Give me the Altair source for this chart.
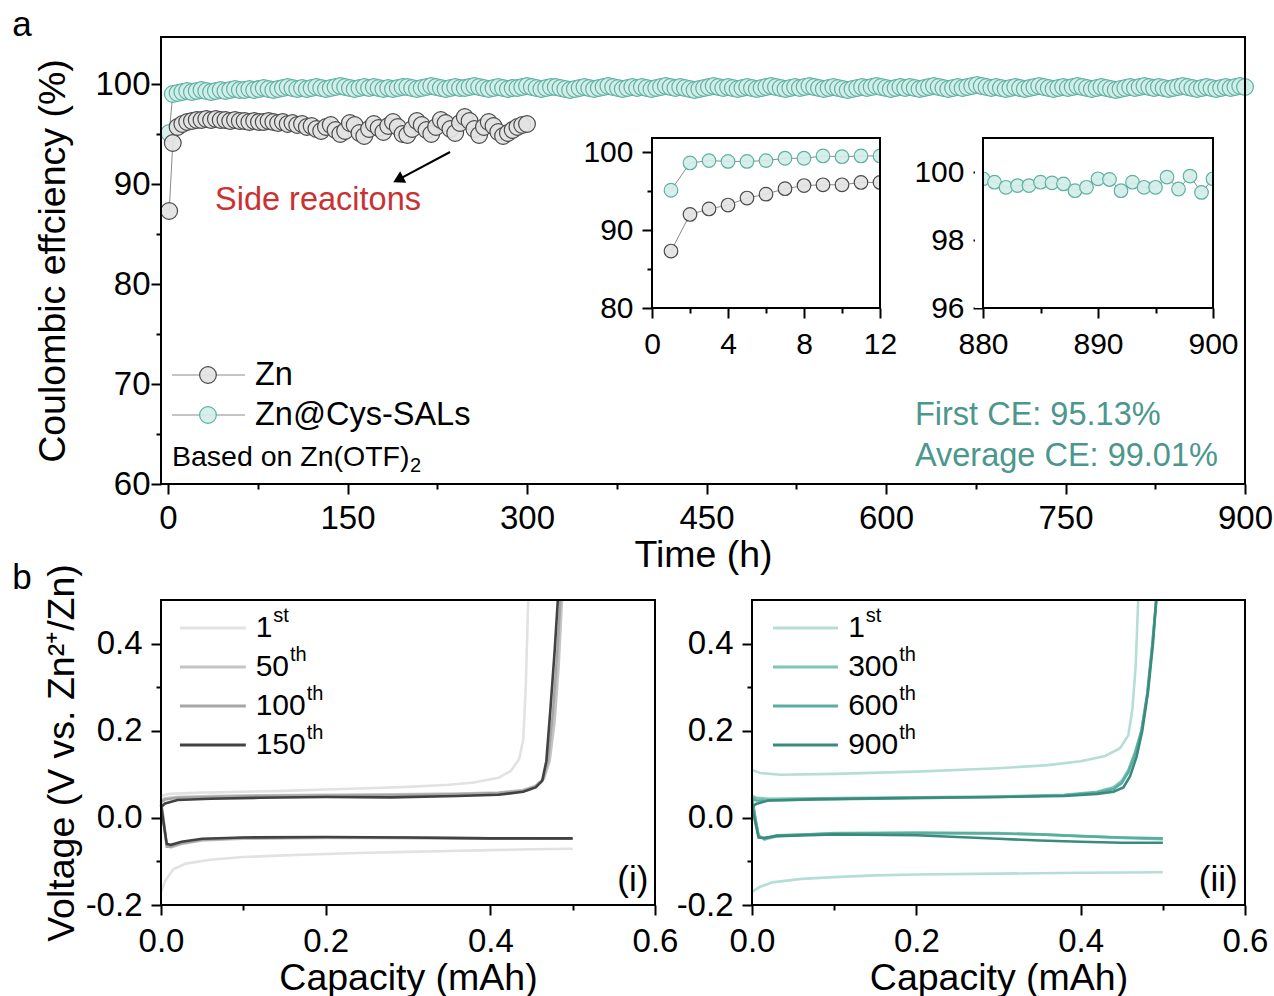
import altair as alt
import pandas as pd

FONT = "Liberation Sans"

# ------------------------------------------------------------------ data
# panel a, main curves (one plotted point every 4 h)
zn_time = [1, 4] + list(range(8, 301, 4))
zn_ce = [87.3, 94.1,
         95.7, 96.0, 96.2, 96.3, 96.4, 96.4, 96.5, 96.4, 96.5, 96.4,
         96.4, 96.3, 96.4, 96.3, 96.3, 96.2, 96.3, 96.2, 96.2, 96.3,
         96.2, 96.1, 96.2, 96.0, 96.1, 95.9, 96.0, 95.7, 95.8, 95.5,
         95.3, 95.7, 95.9, 95.4, 95.0, 95.3, 96.1, 95.9, 95.1, 94.8,
         95.5, 96.0, 95.6, 95.2, 95.8, 96.2, 95.7, 95.0, 94.9, 95.5,
         96.3, 95.9, 95.4, 95.0, 95.7, 96.4, 96.1, 95.5, 95.1, 96.1,
         96.7, 96.3, 95.5, 94.9, 95.7, 96.2, 95.8, 95.2, 94.8, 95.1,
         95.4, 95.7, 95.9, 96.0]

cys_time = [1, 4] + list(range(8, 901, 4))
cys_ce = [95.1, 99.0,
          99.1, 99.2, 99.3, 99.2, 99.3, 99.4, 99.3, 99.2, 99.3, 99.4, 99.3, 99.4, 99.5, 99.4, 99.4, 99.5,
          99.4, 99.5, 99.6, 99.5, 99.4, 99.5, 99.6, 99.7, 99.6, 99.5, 99.6, 99.5, 99.6, 99.7, 99.6, 99.5,
          99.6, 99.7, 99.8, 99.7, 99.6, 99.5, 99.6, 99.7, 99.6, 99.7, 99.6, 99.5, 99.6, 99.5, 99.6, 99.7,
          99.7, 99.6, 99.5, 99.6, 99.7, 99.8, 99.7, 99.6, 99.5, 99.6, 99.7, 99.6, 99.6, 99.7, 99.8, 99.7,
          99.6, 99.5, 99.6, 99.7, 99.6, 99.5, 99.6, 99.6, 99.7, 99.8, 99.7, 99.6, 99.5, 99.6, 99.7, 99.7,
          99.6, 99.5, 99.4, 99.5, 99.6, 99.7, 99.6, 99.5, 99.6, 99.7, 99.8, 99.7, 99.6, 99.5, 99.6, 99.7,
          99.6, 99.7, 99.6, 99.5, 99.6, 99.7, 99.8, 99.7, 99.6, 99.7, 99.6, 99.5, 99.4, 99.5, 99.6, 99.7,
          99.8, 99.7, 99.6, 99.7, 99.6, 99.5, 99.6, 99.7, 99.6, 99.5, 99.6, 99.7, 99.8, 99.7, 99.6, 99.5,
          99.6, 99.7, 99.6, 99.7, 99.8, 99.7, 99.6, 99.5, 99.6, 99.7, 99.6, 99.5, 99.4, 99.5, 99.6, 99.7,
          99.6, 99.7, 99.8, 99.7, 99.6, 99.5, 99.6, 99.7, 99.6, 99.7, 99.6, 99.5, 99.6, 99.7, 99.8, 99.7,
          99.6, 99.5, 99.6, 99.7, 99.6, 99.7, 99.8, 99.9, 99.8, 99.7, 99.6, 99.7, 99.6, 99.5, 99.6, 99.7,
          99.6, 99.5, 99.6, 99.7, 99.8, 99.7, 99.6, 99.5, 99.6, 99.7, 99.6, 99.7, 99.8, 99.7, 99.6, 99.5,
          99.6, 99.7, 99.6, 99.5, 99.4, 99.5, 99.6, 99.7, 99.6, 99.7, 99.8, 99.7, 99.6, 99.7, 99.6, 99.5,
          99.6, 99.7, 99.8, 99.7, 99.6, 99.5, 99.6, 99.7, 99.6, 99.5, 99.6, 99.7, 99.6, 99.7, 99.8, 99.7]

# insets
ins1_time = list(range(1, 13))
ins1_zn = [87.3, 92.0, 92.7, 93.2, 94.1, 94.6, 95.3, 95.7, 95.8, 95.8, 96.1, 96.1]
ins1_cys = [95.1, 98.6, 98.9, 98.8, 98.8, 98.9, 99.2, 99.2, 99.5, 99.4, 99.5, 99.5]
ins2_time = list(range(880, 901))
ins2_cys = [99.8, 99.7, 99.55, 99.6, 99.6, 99.7, 99.68, 99.65, 99.45, 99.55, 99.8,
            99.78, 99.45, 99.7, 99.55, 99.55, 99.85, 99.5, 99.88, 99.4, 99.8]

# panel b (i): bare Zn
b1_num = ["1", "50", "100", "150"]
b1_sup = ["st", "th", "th", "th"]
b1_strip_cap = {
    "1": [0, 0.01, 0.05, 0.1, 0.15, 0.2, 0.25, 0.3, 0.35, 0.38, 0.41, 0.425, 0.435, 0.44, 0.443, 0.446],
    "50": [0, 0.005, 0.02, 0.06, 0.12, 0.2, 0.28, 0.36, 0.41, 0.44, 0.455, 0.465, 0.472, 0.478, 0.483, 0.487],
    "100": [0, 0.005, 0.02, 0.06, 0.12, 0.2, 0.28, 0.36, 0.41, 0.44, 0.455, 0.464, 0.47, 0.476, 0.481, 0.485],
    "150": [0, 0.005, 0.02, 0.06, 0.12, 0.2, 0.28, 0.36, 0.41, 0.44, 0.455, 0.463, 0.468, 0.473, 0.478, 0.482],
}
b1_strip_v = {
    "1": [0.05, 0.055, 0.058, 0.06, 0.062, 0.065, 0.068, 0.071, 0.076, 0.081, 0.092, 0.108, 0.135, 0.18, 0.3, 0.5],
    "50": [0.04, 0.045, 0.048, 0.05, 0.052, 0.053, 0.054, 0.056, 0.058, 0.064, 0.074, 0.09, 0.13, 0.22, 0.35, 0.5],
    "100": [0.036, 0.042, 0.046, 0.048, 0.05, 0.051, 0.052, 0.054, 0.057, 0.062, 0.072, 0.088, 0.13, 0.24, 0.37, 0.5],
    "150": [0.025, 0.033, 0.041, 0.044, 0.046, 0.048, 0.047, 0.05, 0.053, 0.06, 0.07, 0.085, 0.13, 0.25, 0.38, 0.5],
}
b1_plate_cap = {
    "1": [0, 0.005, 0.015, 0.03, 0.06, 0.1, 0.15, 0.2, 0.25, 0.3, 0.35, 0.4, 0.45, 0.5],
    "50": [0, 0.003, 0.007, 0.012, 0.025, 0.05, 0.1, 0.2, 0.3, 0.4, 0.5],
    "100": [0, 0.003, 0.007, 0.012, 0.025, 0.05, 0.1, 0.2, 0.3, 0.4, 0.5],
    "150": [0, 0.003, 0.007, 0.012, 0.025, 0.05, 0.1, 0.2, 0.3, 0.4, 0.5],
}
b1_plate_v = {
    "1": [-0.17, -0.145, -0.118, -0.105, -0.096, -0.09, -0.086, -0.083, -0.08, -0.078, -0.076, -0.074, -0.072, -0.071],
    "50": [0.04, 0.0, -0.065, -0.068, -0.06, -0.052, -0.048, -0.046, -0.046, -0.047, -0.048],
    "100": [0.036, -0.005, -0.066, -0.066, -0.058, -0.05, -0.046, -0.045, -0.046, -0.047, -0.048],
    "150": [0.03, -0.01, -0.06, -0.062, -0.055, -0.048, -0.045, -0.044, -0.045, -0.047, -0.047],
}

# panel b (ii): Zn@Cys-SALs
b2_num = ["1", "300", "600", "900"]
b2_sup = ["st", "th", "th", "th"]
b2_strip_cap = {
    "1": [0, 0.01, 0.035, 0.1, 0.2, 0.3, 0.36, 0.4, 0.43, 0.448, 0.458, 0.463, 0.467, 0.47],
    "300": [0, 0.005, 0.02, 0.08, 0.2, 0.3, 0.38, 0.42, 0.44, 0.45, 0.458, 0.466, 0.474, 0.481, 0.487, 0.492],
    "600": [0, 0.005, 0.02, 0.08, 0.2, 0.3, 0.38, 0.42, 0.44, 0.45, 0.458, 0.466, 0.474, 0.481, 0.487, 0.492],
    "900": [0, 0.005, 0.02, 0.08, 0.2, 0.3, 0.38, 0.42, 0.44, 0.452, 0.46, 0.468, 0.475, 0.482, 0.488, 0.492],
}
b2_strip_v = {
    "1": [0.11, 0.103, 0.099, 0.101, 0.106, 0.114, 0.121, 0.13, 0.142, 0.16, 0.19, 0.25, 0.35, 0.5],
    "300": [0.05, 0.046, 0.044, 0.045, 0.047, 0.049, 0.053, 0.06, 0.07, 0.085, 0.11, 0.15, 0.2, 0.28, 0.39, 0.5],
    "600": [0.045, 0.04, 0.04, 0.042, 0.045, 0.048, 0.052, 0.058, 0.066, 0.08, 0.105, 0.145, 0.2, 0.285, 0.395, 0.5],
    "900": [0.025, 0.032, 0.04, 0.043, 0.046, 0.048, 0.05, 0.055, 0.06, 0.07, 0.095, 0.14, 0.2, 0.29, 0.4, 0.5],
}
b2_plate_cap = {
    "1": [0, 0.01, 0.025, 0.06, 0.1, 0.15, 0.2, 0.3, 0.4, 0.5],
    "300": [0, 0.004, 0.008, 0.015, 0.03, 0.1, 0.2, 0.3, 0.35, 0.4, 0.45, 0.5],
    "600": [0, 0.004, 0.008, 0.015, 0.03, 0.1, 0.2, 0.3, 0.35, 0.4, 0.45, 0.5],
    "900": [0, 0.004, 0.008, 0.015, 0.03, 0.1, 0.2, 0.3, 0.35, 0.4, 0.45, 0.5],
}
b2_plate_v = {
    "1": [-0.17, -0.158, -0.148, -0.14, -0.136, -0.132, -0.13, -0.128, -0.126, -0.125],
    "300": [0.05, 0.0, -0.04, -0.05, -0.042, -0.035, -0.034, -0.035, -0.038, -0.042, -0.046, -0.049],
    "600": [0.045, 0.0, -0.042, -0.048, -0.04, -0.036, -0.035, -0.036, -0.038, -0.042, -0.045, -0.047],
    "900": [0.025, -0.01, -0.045, -0.046, -0.042, -0.038, -0.04, -0.048, -0.052, -0.055, -0.057, -0.057],
}

# ------------------------------------------------------------------ styles
ZN_FILL, ZN_STROKE = "#e3e3e3", "#4a4a4a"
CYS_FILL, CYS_STROKE = "#d3eee8", "#5db1a4"
LINK = "#8a8a8a"
B1_COLORS = ["#e2e2e2", "#c4c4c4", "#a6a6a6", "#424242"]
B2_COLORS = ["#b5ded7", "#7fc5b8", "#5aae9f", "#3a8b7e"]
TEAL_TXT = "#4b978d"
RED_TXT = "#c93232"
TITLE_SIZE = 37.5
LABEL_SIZE = 33

# sub-panel geometry inside the 1084 x 868 plot area: (domain, pixel range)
MAIN = (([-5.85, 900], [0, 1084]), ([60, 104.7], [447, 0]))
IN1 = (([0, 12], [491, 719]), ([80, 101.8], [271, 101]))
IN2 = (([880, 900], [822, 1052]), ([96, 101], [271, 101]))
B1 = (([0, 0.6], [0, 494]), ([-0.2, 0.5], [868, 563]))
B2 = (([0, 0.6], [591, 1084]), ([-0.2, 0.5], [868, 563]))


def scl(p):
    return alt.Scale(domain=p[0], range=p[1], nice=False, zero=False)


def enc(P, xf="x", yf="y", xaxis=None, yaxis=None, x2=False, y2=False):
    e = dict(x=alt.X(xf, type="quantitative", scale=scl(P[0]), axis=xaxis),
             y=alt.Y(yf, type="quantitative", scale=scl(P[1]), axis=yaxis))
    if x2:
        e["x2"] = alt.X2("x2")
    if y2:
        e["y2"] = alt.Y2("y2")
    return e


def axis(orient, values, offset=0, tick=10, labels=True, title="", fmt="d",
         lsize=LABEL_SIZE, lpad=3, tpad=6, lexpr=""):
    kw = dict(orient=orient, values=values, offset=offset, tickSize=tick, tickWidth=2,
              tickColor="black", domain=False, grid=False, labels=labels, title=title,
              labelFlush=False, labelOverlap=False, labelFont=FONT, labelFontSize=lsize,
              labelColor="black", labelPadding=lpad, titleFont=FONT, titleFontSize=TITLE_SIZE,
              titleFontWeight="normal", titleColor="black", titlePadding=tpad, format=fmt)
    if lexpr:
        kw["labelExpr"] = lexpr
    return alt.Axis(**kw)


def frame(P, xaxis, yaxis):
    df = pd.DataFrame({"x": [P[0][0][0]], "x2": [P[0][0][1]],
                       "y": [P[1][0][0]], "y2": [P[1][0][1]]})
    return alt.Chart(df).mark_rect(fillOpacity=0, stroke="black", strokeWidth=2).encode(
        **enc(P, xaxis=xaxis, yaxis=yaxis, x2=True, y2=True))


def text(P, xs, ys, labels, size, color="black", align="left", dy=0):
    df = pd.DataFrame({"x": xs, "y": ys, "t": labels})
    return alt.Chart(df).mark_text(align=align, baseline="middle", font=FONT, fontSize=size,
                                   color=color, dy=dy).encode(**enc(P), text="t:N")


def dots(P, xs, ys, fill, stroke, size):
    df = pd.DataFrame({"x": xs, "y": ys})
    return alt.Chart(df).mark_circle(size=size, fill=fill, stroke=stroke, strokeWidth=1.2,
                                     fillOpacity=0.92, opacity=1)


def link(P, xs, ys):
    df = pd.DataFrame({"x": xs, "y": ys})
    return alt.Chart(df).mark_line(color=LINK, strokeWidth=1).encode(**enc(P))


def mask(P, x0, x1):
    df = pd.DataFrame({"x": [x0], "x2": [x1], "y": [P[1][0][0]], "y2": [P[1][0][1]]})
    return alt.Chart(df).mark_rect(fill="white", strokeWidth=0).encode(**enc(P, x2=True, y2=True))


layers = []

# ------------------------------------------------------------------ panel a
BIG, SMALL = 280, 185
layers.append(link(MAIN, cys_time, cys_ce))
layers.append(link(MAIN, zn_time, zn_ce))
layers.append(dots(MAIN, cys_time, cys_ce, CYS_FILL, CYS_STROKE, BIG).encode(**enc(MAIN)))
layers.append(dots(MAIN, zn_time, zn_ce, ZN_FILL, ZN_STROKE, BIG).encode(
    **enc(MAIN,
          xaxis=axis("bottom", [0, 150, 300, 450, 600, 750, 900], offset=-421,
                     lpad=8, title="Time (h)", tpad=1),
          yaxis=axis("left", [60, 70, 80, 90, 100], lpad=1,
                     title="Coulombic effciency (%)", tpad=22))))

# arrow and annotations
arrow_df = pd.DataFrame({"x": [235.7], "x2": [192.4], "y": [93.2], "y2": [90.43]})
layers.append(alt.Chart(arrow_df).mark_rule(color="black", strokeWidth=2).encode(
    **enc(MAIN, x2=True, y2=True)))
layers.append(alt.Chart(pd.DataFrame({"x": [192.4], "y": [90.43]})).mark_point(
    shape="triangle-up", filled=True, color="black", size=170, angle=242, opacity=1).encode(**enc(MAIN)))
layers.append(text(MAIN, [39.3], [88.4], ["Side reacitons"], 32.5, RED_TXT))
layers.append(text(MAIN, [624.2, 624.2], [66.9, 62.8],
                   ["First CE: 95.13%", "Average CE: 99.01%"], 32.5, TEAL_TXT))

# legend of panel a
leg_df = pd.DataFrame({"x": [3.3, 3.3], "x2": [64.3, 64.3], "y": [70.9, 66.9]})
layers.append(alt.Chart(leg_df).mark_rule(color=LINK, strokeWidth=1).encode(**enc(MAIN, x2=True)))
layers.append(dots(MAIN, [33.4], [70.9], ZN_FILL, ZN_STROKE, BIG).encode(**enc(MAIN)))
layers.append(dots(MAIN, [33.4], [66.9], CYS_FILL, CYS_STROKE, BIG).encode(**enc(MAIN)))
layers.append(text(MAIN, [72.7, 72.7], [70.9, 66.9], ["Zn", "Zn@Cys-SALs"], 32.5))
based_size = 28.5
based_em = 8.336  # advance width of "Based on Zn(OTF)" in em
layers.append(text(MAIN, [3.3], [62.7], ["Based on Zn(OTF)"], based_size))
layers.append(text(MAIN, [3.3 + based_em * based_size / 1.19667 + 0.5], [61.8], ["2"], 20))

layers.append(frame(MAIN,
                    axis("bottom", [75, 225, 375, 525, 675, 825], offset=-421, tick=5, labels=False),
                    axis("left", [65, 75, 85, 95], tick=5, labels=False)))

# ------------------------------------------------------------------ inset 1
layers.append(link(IN1, ins1_time, ins1_zn))
layers.append(link(IN1, ins1_time, ins1_cys))
layers.append(dots(IN1, ins1_time, ins1_cys, CYS_FILL, CYS_STROKE, SMALL).encode(**enc(IN1)))
layers.append(dots(IN1, ins1_time, ins1_zn, ZN_FILL, ZN_STROKE, SMALL).encode(
    **enc(IN1,
          xaxis=axis("bottom", [0, 4, 8, 12], offset=-597, tick=10, lsize=30, lpad=11),
          yaxis=axis("left", [80, 90, 100], offset=-491, tick=10, lsize=30, lpad=9))))
layers.append(mask(IN1, 12.0, 12.6))
layers.append(frame(IN1,
                    axis("bottom", [2, 6, 10], offset=-597, tick=5, labels=False),
                    axis("left", [85, 95], offset=-491, tick=5, labels=False)))

# ------------------------------------------------------------------ inset 2
layers.append(link(IN2, ins2_time, ins2_cys))
layers.append(dots(IN2, ins2_time, ins2_cys, CYS_FILL, CYS_STROKE, SMALL).encode(
    **enc(IN2,
          xaxis=axis("bottom", [880, 890, 900], offset=-597, tick=10, lsize=30, lpad=11),
          yaxis=axis("left", [96, 98, 100], offset=-822, tick=10, lsize=30, lpad=9))))
layers.append(mask(IN2, 879.3, 880.0))
layers.append(mask(IN2, 900.0, 900.7))
layers.append(frame(IN2,
                    axis("bottom", [885, 895], offset=-597, tick=5, labels=False),
                    axis("left", [97, 99], offset=-822, tick=5, labels=False)))

# ------------------------------------------------------------------ panel b
MINUS = "replace(format(datum.value, '.1f'), '\u2212', '-')"


def curves(P, nums, colors, scap, sv, pcap, pv, xaxis, yaxis):
    out = []
    for k, (n, c) in enumerate(zip(nums, colors)):
        rows = []
        for i, (x, y) in enumerate(zip(pcap[n], pv[n])):
            rows.append({"x": x, "y": y, "seg": "plate", "i": i})
        for i, (x, y) in enumerate(zip(scap[n], sv[n])):
            rows.append({"x": x, "y": y, "seg": "strip", "i": i})
        df = pd.DataFrame(rows)
        e = enc(P, xaxis=xaxis if k == 0 else None, yaxis=yaxis if k == 0 else None)
        out.append(alt.Chart(df).mark_line(color=c, strokeWidth=2.6).encode(
            **e, detail="seg:N", order="i:Q"))
    return out


def b_legend(P, nums, sups, colors, x0, x1, xt, px_per_unit):
    ys = [0.436, 0.346, 0.257, 0.167]
    fs = 30
    out = []
    ldf = pd.DataFrame({"x": [x0] * 4, "x2": [x1] * 4, "y": ys, "c": colors})
    out.append(alt.Chart(ldf).mark_rule(strokeWidth=3).encode(
        **enc(P, x2=True), color=alt.Color("c:N", scale=None)))
    out.append(text(P, [xt] * 4, ys, nums, fs))
    sx = [xt + (len(n) * 0.556 * fs + 1) / px_per_unit for n in nums]
    out.append(text(P, sx, ys, sups, 20, dy=-12))
    return out


layers += curves(B1, b1_num, B1_COLORS, b1_strip_cap, b1_strip_v, b1_plate_cap, b1_plate_v,
                 axis("bottom", [0, 0.2, 0.4, 0.6], fmt=".1f", lpad=10, title="Capacity (mAh)", tpad=1),
                 axis("left", [-0.2, 0.0, 0.2, 0.4], fmt=".1f", lexpr=MINUS, lpad=9,
                      title="Voltage (V vs. Zn\u00b2\u207a/Zn)", tpad=4))
layers += b_legend(B1, b1_num, b1_sup, B1_COLORS, 0.023, 0.103, 0.115, 823.3)
layers.append(text(B1, [0.592], [-0.143], ["(i)"], 35, align="right"))
layers.append(frame(B1,
                    axis("bottom", [0.1, 0.3, 0.5], tick=5, labels=False),
                    axis("left", [-0.1, 0.1, 0.3], tick=5, labels=False)))

layers += curves(B2, b2_num, B2_COLORS, b2_strip_cap, b2_strip_v, b2_plate_cap, b2_plate_v,
                 axis("bottom", [0, 0.2, 0.4, 0.6], fmt=".1f", lpad=10, title="Capacity (mAh)", tpad=1),
                 axis("left", [-0.2, 0.0, 0.2, 0.4], offset=-591, fmt=".1f", lexpr=MINUS, lpad=9))
layers += b_legend(B2, b2_num, b2_sup, B2_COLORS, 0.0255, 0.1046, 0.117, 821.7)
layers.append(text(B2, [0.591], [-0.143], ["(ii)"], 35, align="right"))
layers.append(frame(B2,
                    axis("bottom", [0.1, 0.3, 0.5], tick=5, labels=False),
                    axis("left", [-0.1, 0.1, 0.3], offset=-591, tick=5, labels=False)))

# panel letters
layers.append(text(MAIN, [-122.0], [105.9], ["a"], 35, align="center"))
layers.append(text(B1, [-0.1688], [0.5505], ["b"], 35, align="center"))

chart = (
    alt.layer(*layers)
    .resolve_scale(x="independent", y="independent")
    .resolve_axis(x="independent", y="independent")
    .properties(width=1084, height=868,
                autosize=alt.AutoSizeParams(type="none"),
                padding={"left": 161, "top": 37, "right": 29, "bottom": 91},
                background="white")
    .configure_view(strokeWidth=0)
)

chart.save("out.html", embed_options={"renderer": "svg", "actions": False})
